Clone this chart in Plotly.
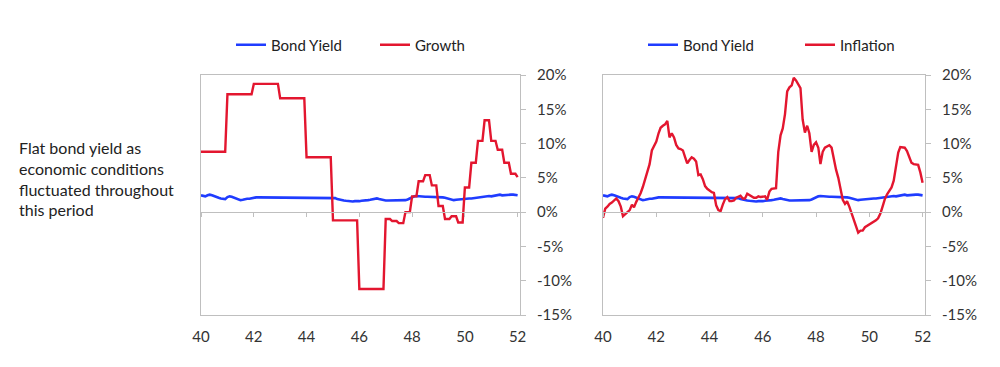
import pandas as pd
import plotly.graph_objects as go

# ---------------- data ----------------
months = pd.date_range("1940-01-01", periods=145, freq="MS")

bond_yield = [
    2.45, 2.4, 2.3, 2.45, 2.55, 2.45, 2.3, 2.2, 2.1, 2.0, 1.9, 1.9,
    2.2, 2.3, 2.25, 2.1, 2.05, 1.9, 1.75, 1.8, 1.9, 1.95, 1.95, 2.05,
    2.15, 2.15, 2.15, 2.15, 2.15, 2.15, 2.15, 2.15, 2.15, 2.15, 2.15, 2.15,
    2.15, 2.15, 2.15, 2.15, 2.15, 2.15, 2.15, 2.15, 2.15, 2.15, 2.15, 2.15,
    2.15, 2.15, 2.15, 2.15, 2.15, 2.15, 2.15, 2.15, 2.15, 2.15, 2.15, 2.15,
    2.15, 2.05, 1.9, 1.8, 1.75, 1.7, 1.65, 1.6, 1.55, 1.55, 1.6, 1.55,
    1.6, 1.65, 1.65, 1.7, 1.75, 1.8, 1.85, 1.95, 2.0, 1.9, 1.8, 1.75,
    1.7, 1.7, 1.7, 1.7, 1.7, 1.7, 1.7, 1.7, 1.7, 1.75, 1.85, 2.0,
    2.2, 2.3, 2.35, 2.3, 2.25, 2.25, 2.25, 2.25, 2.25, 2.25, 2.2, 2.2,
    2.2, 2.2, 2.15, 2.1, 2.0, 1.95, 1.85, 1.75, 1.8, 1.85, 1.8, 1.85,
    1.9, 1.95, 2.0, 2.0, 2.05, 2.1, 2.1, 2.15, 2.2, 2.2, 2.3, 2.35,
    2.3, 2.35, 2.45, 2.5, 2.55, 2.45, 2.5, 2.55, 2.6, 2.55, 2.55, 2.5,
    2.45,
]

growth = [
    8.8, 8.8, 8.8, 8.8, 8.8, 8.8, 8.8, 8.8, 8.8, 8.8, 8.8, 8.8,
    17.2, 17.2, 17.2, 17.2, 17.2, 17.2, 17.2, 17.2, 17.2, 17.2, 17.2, 17.2,
    18.7, 18.7, 18.7, 18.7, 18.7, 18.7, 18.7, 18.7, 18.7, 18.7, 18.7, 18.7,
    16.6, 16.6, 16.6, 16.6, 16.6, 16.6, 16.6, 16.6, 16.6, 16.6, 16.6, 16.6,
    8.0, 8.0, 8.0, 8.0, 8.0, 8.0, 8.0, 8.0, 8.0, 8.0, 8.0, 8.0,
    -1.2, -1.2, -1.2, -1.2, -1.2, -1.2, -1.2, -1.2, -1.2, -1.2, -1.2, -1.2,
    -11.2, -11.2, -11.2, -11.2, -11.2, -11.2, -11.2, -11.2, -11.2, -11.2, -11.2, -11.2,
    -1.0, -1.0, -1.0, -1.3, -1.3, -1.3, -1.6, -1.6, -1.6, 0.0, 0.0, 0.0,
    2.3, 2.3, 2.3, 4.5, 4.5, 4.5, 5.4, 5.4, 5.4, 3.9, 3.9, 3.9,
    0.9, 0.9, 0.9, -1.0, -1.0, -1.0, -0.6, -0.6, -0.6, -1.5, -1.5, -1.5,
    3.6, 3.6, 3.6, 7.2, 7.2, 7.2, 10.4, 10.4, 10.4, 13.4, 13.4, 13.4,
    10.4, 10.4, 10.4, 9.1, 9.1, 9.1, 7.2, 7.2, 7.2, 5.6, 5.6, 5.6,
    5.1,
]

inflation = [
    -0.8, 0.5, 0.8, 1.2, 1.4, 1.7, 2.0, 1.6, 0.8, -0.6, -0.3, -0.1,
    0.3, 1.1, 0.7, 1.5, 2.1, 2.8, 3.7, 4.7, 5.8, 7.0, 9.0, 9.7,
    10.3, 11.5, 12.3, 12.6, 12.8, 13.3, 10.9, 11.5, 10.9, 9.8, 9.3, 9.2,
    9.0, 8.0, 7.1, 7.6, 8.0, 7.8, 7.4, 5.4, 5.5, 4.8, 3.8, 3.4,
    3.1, 2.9, 2.8, 1.0, 0.3, 0.15, 1.1, 1.9, 2.2, 1.6, 1.6, 1.7,
    2.1, 2.3, 2.4, 2.0, 2.0, 2.7, 2.5, 2.2, 2.1, 2.1, 2.3, 2.2,
    2.2, 2.3, 1.8, 3.0, 3.4, 3.5, 3.5, 8.8, 11.2, 12.2, 14.3, 17.6,
    18.2, 18.5, 19.6, 19.2, 18.7, 18.1, 13.5, 11.6, 12.6, 11.5, 8.8, 9.8,
    10.2, 9.4, 7.0, 8.8, 9.4, 9.6, 9.75, 9.4, 7.6, 6.2, 5.0, 3.2,
    1.8, 1.2, 1.6, 0.8, -0.1, -1.1, -2.2, -3.0, -2.7, -2.7, -2.2, -2.0,
    -1.9, -1.6, -1.5, -1.2, -0.9, -0.2, 0.8, 1.9, 2.6, 3.2, 3.6, 4.6,
    7.0, 8.7, 9.5, 9.5, 9.4, 8.9, 7.9, 7.2, 7.0, 6.9, 6.9, 5.8,
    4.3,
]

y_tickvals = [-15, -10, -5, 0, 5, 10, 15, 20]
y_ticktext = ["-15%", "-10%", "-5%", "0%", "5%", "10%", "15%", "20%"]

note_lines = ["Flat bond yield as", "economic conditions",
              "fluctuated throughout", "this period"]

# ---------------- style ----------------
BLUE = "#1f3cff"
RED = "#e3162f"
GRID = "#bfbfbf"
TXT = "#333333"
FONT = "Lato"
Y_RANGE = [-15, 20]
X_RANGE = ["1940-01-01", "1952-02-03"]
Y_DOM = [1 - 315 / 367, 1 - 75 / 367]
zero_pos = Y_DOM[0] + (0 - Y_RANGE[0]) / (Y_RANGE[1] - Y_RANGE[0]) * (Y_DOM[1] - Y_DOM[0])

fig = go.Figure()

fig.add_trace(go.Scatter(x=months, y=bond_yield, name="Bond Yield", mode="lines",
                         line=dict(color=BLUE, width=2.6), xaxis="x", yaxis="y",
                         legend="legend"))
fig.add_trace(go.Scatter(x=months, y=growth, name="Growth", mode="lines",
                         line=dict(color=RED, width=2.4), xaxis="x", yaxis="y",
                         legend="legend"))
fig.add_trace(go.Scatter(x=months, y=bond_yield, name="Bond Yield", mode="lines",
                         line=dict(color=BLUE, width=2.6), xaxis="x2", yaxis="y2",
                         legend="legend2"))
fig.add_trace(go.Scatter(x=months, y=inflation, name="Inflation", mode="lines",
                         line=dict(color=RED, width=2.4), xaxis="x2", yaxis="y2",
                         legend="legend2"))
# invisible traces to carry the zero-line tick axes
for xa in ("x3", "x4"):
    fig.add_trace(go.Scatter(x=[months[0]], y=[None], xaxis=xa, yaxis="y" if xa == "x3" else "y2",
                             showlegend=False, hoverinfo="skip", mode="lines"))


def xaxis_main(domain, anchor):
    return dict(domain=domain, anchor=anchor, type="date", range=X_RANGE,
                tick0="1940-01-01", dtick="M24", tickformat="%y",
                ticks="", showgrid=False, zeroline=False,
                showline=True, linecolor=GRID, linewidth=1, mirror=True,
                tickfont=dict(family=FONT, size=15, color=TXT),
                ticklabelstandoff=8, automargin=False)


def xaxis_zero(overlay):
    return dict(overlaying=overlay, anchor="free", position=zero_pos, type="date",
                range=X_RANGE, tick0="1940-01-01", dtick="M24",
                ticks="outside", ticklen=4, tickcolor=GRID, tickwidth=1,
                showticklabels=False, showgrid=False, zeroline=False,
                showline=True, linecolor=GRID, linewidth=1, automargin=False)


def yaxis_main(anchor):
    return dict(domain=Y_DOM, anchor=anchor, side="right", range=Y_RANGE,
                tickvals=y_tickvals, ticktext=y_ticktext,
                ticks="outside", ticklen=5, tickcolor=GRID, tickwidth=1,
                showgrid=False, zeroline=False,
                showline=True, linecolor=GRID, linewidth=1, mirror=True,
                tickfont=dict(family=FONT, size=15, color=TXT),
                ticklabelstandoff=8, automargin=False)


legend_common = dict(orientation="h", yanchor="middle", y=1 - 45 / 367,
                     xanchor="left", font=dict(family=FONT, size=15, color="#222222"),
                     bgcolor="rgba(0,0,0,0)", entrywidthmode="pixels",
                     traceorder="normal")

fig.update_layout(
    width=1000, height=367,
    margin=dict(l=0, r=0, t=0, b=0, autoexpand=False),
    paper_bgcolor="white", plot_bgcolor="white",
    font=dict(family=FONT, color=TXT),
    xaxis=xaxis_main([201 / 1000, 520 / 1000], "y"),
    xaxis2=xaxis_main([603 / 1000, 925 / 1000], "y2"),
    xaxis3=xaxis_zero("x"),
    xaxis4=xaxis_zero("x2"),
    yaxis=yaxis_main("x"),
    yaxis2=yaxis_main("x2"),
    legend=dict(legend_common, x=0.231, entrywidth=99),
    legend2=dict(legend_common, x=0.643, entrywidth=112),
    showlegend=True,
    annotations=[dict(text="<br>".join(note_lines), x=17 / 1000, y=1 - 178 / 367,
                      xref="paper", yref="paper", xanchor="left", yanchor="middle",
                      align="left", showarrow=False,
                      font=dict(family=FONT, size=16, color="#222222"))],
)

fig.write_html("out.html", config={"displayModeBar": False},
               post_script="document.body.style.margin='0';document.body.style.padding='0';")
